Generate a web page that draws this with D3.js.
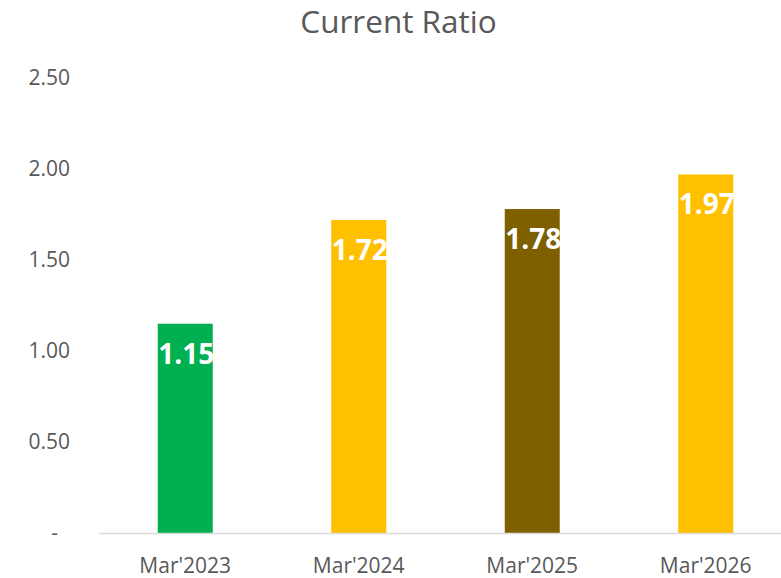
<!DOCTYPE html>
<html><head><meta charset="utf-8">
<script src="https://cdn.jsdelivr.net/npm/d3@7/dist/d3.min.js"></script>
<style>body{margin:0;background:#fff;} svg{display:block;}</style>
</head><body>
<svg id="chart" width="781" height="578"></svg>
<script>
const categories = ["Mar'2023", "Mar'2024", "Mar'2025", "Mar'2026"];
const values = [1.15, 1.72, 1.78, 1.97];
const barColors = ["#00B050", "#FFC000", "#7F6000", "#FFC000"];
const yTicks = [0, 0.5, 1.0, 1.5, 2.0, 2.5];
const yTickLabels = ["-", "0.50", "1.00", "1.50", "2.00", "2.50"];
const title = "Current Ratio";

const svg = d3.select("#chart");
const font = "'Open Sans', sans-serif";
const grey = "#595959";

const x = d3.scaleBand().domain(categories).range([98.5, 792.5]).paddingInner(0.683).paddingOuter(0.3415);
const y = d3.scaleLinear().domain([0, 2.5]).range([533, 78]);

svg.append("text").attr("x", 398.5).attr("y", 33).attr("text-anchor", "middle")
  .attr("font-family", font).attr("font-size", 31.5).attr("fill", grey).text(title);

// y axis labels
const yAxis = d3.axisLeft(y).tickValues(yTicks).tickSize(0).tickPadding(0)
  .tickFormat((d, i) => yTickLabels[i]);
const yg = svg.append("g").attr("transform", "translate(70,0)").call(yAxis);
yg.select(".domain").remove();
yg.selectAll("text").attr("font-family", font).attr("font-size", 21).attr("fill", grey)
  .attr("dx", (d, i) => i === 0 ? -12 : 0);

// bars
svg.selectAll("rect.bar").data(values).join("rect").attr("class", "bar")
  .attr("x", (d, i) => x(categories[i])).attr("width", x.bandwidth())
  .attr("y", d => y(d)).attr("height", d => y(0) - y(d))
  .attr("fill", (d, i) => barColors[i]);

// x axis
const xAxis = d3.axisBottom(x).tickSize(0).tickPadding(0);
const xg = svg.append("g").attr("transform", `translate(0,${y(0)})`).call(xAxis);
xg.select(".domain").attr("stroke", "#d9d9d9").attr("stroke-width", 1.5);
xg.selectAll("text").attr("font-family", font).attr("font-size", 21).attr("fill", grey)
  .attr("dy", null).attr("y", 40);

// value labels
svg.selectAll("text.val").data(values).join("text").attr("class", "val")
  .attr("x", (d, i) => x(categories[i]) + 0.5)
  .attr("y", d => y(d) + 40)
  .attr("font-family", font).attr("font-size", 28).attr("font-weight", "bold")
  .attr("fill", "#ffffff").text(d => d.toFixed(2));
</script>
</body></html>
